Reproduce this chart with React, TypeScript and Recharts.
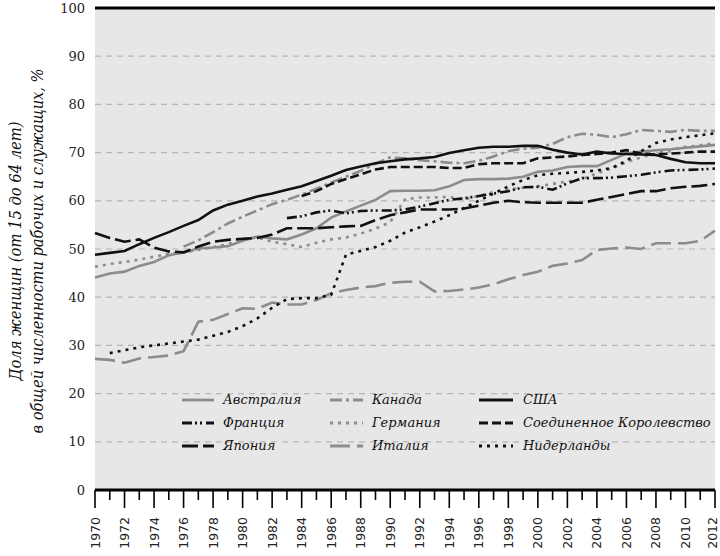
import React from 'react';
import { LineChart, Line, XAxis, YAxis, CartesianGrid, ReferenceLine, Legend } from 'recharts';

const years = [
  1970, 1971, 1972, 1973, 1974, 1975, 1976, 1977, 1978, 1979,
  1980, 1981, 1982, 1983, 1984, 1985, 1986, 1987, 1988, 1989,
  1990, 1991, 1992, 1993, 1994, 1995, 1996, 1997, 1998, 1999,
  2000, 2001, 2002, 2003, 2004, 2005, 2006, 2007, 2008, 2009,
  2010, 2011, 2012,
];

const yTicks = [0, 10, 20, 30, 40, 50, 60, 70, 80, 90, 100];

const australia = [
  44.1, 44.9, 45.3, 46.5, 47.3, 48.7, 49.3, 50.1, 50.3, 50.6,
  51.7, 52.6, 52.2, 52.0, 53.0, 54.3, 56.5, 57.8, 59.0, 60.2,
  62.0, 62.1, 62.1, 62.2, 63.0, 64.3, 64.5, 64.5, 64.6, 65.0,
  66.0, 66.3, 67.0, 67.2, 67.2, 68.5, 69.8, 70.2, 70.5, 70.7,
  71.0, 71.3, 71.6,
];
const canada = [
  null, null, null, null, null, null, 50.5, 51.8, 53.5, 55.3,
  56.7, 58.0, 59.3, 60.2, 61.3, 62.5, 63.8, 65.0, 66.2, 67.7,
  69.0, 68.8, 68.4, 68.2, 67.9, 67.8, 68.3, 69.2, 70.3, 70.8,
  71.0, 71.8, 73.2, 73.9, 73.7, 73.2, 73.8, 74.7, 74.5, 74.3,
  74.7, 74.5, 74.5,
];
const usa = [
  48.8, 49.2, 49.6, 51.0, 52.3, 53.5, 54.8, 56.0, 58.0, 59.2,
  60.0, 60.9, 61.5, 62.3, 63.0, 64.1, 65.2, 66.4, 67.1, 67.8,
  68.2, 68.6, 68.8, 69.1, 69.9, 70.5, 71.0, 71.2, 71.2, 71.4,
  71.4, 70.6, 70.0, 69.6, 70.2, 69.8, 69.7, 69.6, 69.5, 68.7,
  68.0, 67.8, 67.8,
];
const france = [
  null, null, null, null, null, null, null, null, null, null,
  null, null, null, 56.4, 56.8, 57.6, 58.0, 57.4, 57.9, 58.0,
  58.0, 58.2, 58.8, 59.5, 60.2, 60.5, 61.0, 61.5, 62.0, 62.8,
  62.9, 62.3, 63.6, 64.7, 64.7, 64.8, 65.1, 65.4, 65.9, 66.3,
  66.4, 66.5, 66.7,
];
const germany = [
  46.3, 46.9, 47.3, 47.8, 48.4, 49.0, 49.3, 49.8, 50.4, 51.0,
  52.0, 52.4, 51.5, 51.0, 50.4, 51.3, 52.0, 52.4, 53.2, 54.2,
  55.6, 60.3, 60.7, 60.7, 60.8, 60.3, 61.0, 61.8, 62.4, 62.7,
  63.0, 63.5, 64.0, 64.5, 65.7, 66.7, 68.0, 69.0, 69.8, 70.5,
  71.2, 71.5, 72.0,
];
const uk = [
  null, null, null, null, null, null, null, null, null, null,
  null, null, null, null, 61.0, 62.0, 63.5, 64.5, 65.5, 66.5,
  67.0, 67.0, 67.0, 67.0, 66.8, 66.8, 67.6, 67.8, 67.8, 67.8,
  68.8, 69.0, 69.2, 69.5, 69.7, 70.0, 70.5, 69.8, 69.6, 69.8,
  70.0, 70.2, 70.2,
];
const japan = [
  53.3, 52.3, 51.5, 52.0, 50.3, 49.5, 49.3, 50.5, 51.5, 51.9,
  52.1, 52.3, 53.0, 54.3, 54.3, 54.3, 54.5, 54.7, 54.8, 56.0,
  57.0, 57.6, 58.2, 58.2, 58.2, 58.4, 59.0, 59.6, 60.0, 59.7,
  59.6, 59.6, 59.6, 59.6, 60.2, 60.8, 61.4, 62.0, 62.0, 62.6,
  62.9, 63.1, 63.5,
];
const italy = [
  27.2, 27.0, 26.4, 27.3, 27.6, 27.9, 28.8, 34.9, 35.3, 36.5,
  37.7, 37.6, 38.9, 38.5, 38.5, 39.4, 40.8, 41.5, 42.0, 42.3,
  43.0, 43.2, 43.2, 41.2, 41.3, 41.6, 42.0, 42.7, 43.7, 44.6,
  45.3, 46.5, 47.0, 47.7, 49.8, 50.1, 50.3, 50.0, 51.2, 51.2,
  51.2, 51.7, 53.8,
];
const netherlands = [
  null, 28.4, 29.0, 29.6, 30.0, 30.4, 30.8, 31.2, 32.0, 32.8,
  34.0, 35.6, 37.8, 39.6, 39.8, 39.8, 40.5, 48.8, 49.6, 50.4,
  51.7, 53.4, 54.5, 55.7, 57.0, 58.5, 60.0, 61.5, 63.0, 64.3,
  65.3, 65.6, 65.8, 66.0, 66.3, 66.8, 68.3, 70.3, 72.0, 72.7,
  73.2, 73.6, 74.0,
];

const GRAY = '#8c8c8c';
const BLACK = '#111111';

type SeriesDef = { key: string; name: string; values: (number | null)[]; color: string; dash?: string };

const seriesDefs: SeriesDef[] = [
  { key: 'australia', name: 'Австралия', values: australia, color: GRAY },
  { key: 'canada', name: 'Канада', values: canada, color: GRAY, dash: '12 4 3 4' },
  { key: 'germany', name: 'Германия', values: germany, color: GRAY, dash: '3 5' },
  { key: 'italy', name: 'Италия', values: italy, color: GRAY, dash: '20 7' },
  { key: 'usa', name: 'США', values: usa, color: BLACK },
  { key: 'france', name: 'Франция', values: france, color: BLACK, dash: '10 3 2 3 2 4' },
  { key: 'uk', name: 'Соединенное Королевство', values: uk, color: BLACK, dash: '9 4' },
  { key: 'japan', name: 'Япония', values: japan, color: BLACK, dash: '16 5' },
  { key: 'netherlands', name: 'Нидерланды', values: netherlands, color: BLACK, dash: '3 5' },
];

const legendColumns: string[][] = [
  ['australia', 'france', 'japan'],
  ['canada', 'germany', 'italy'],
  ['usa', 'uk', 'netherlands'],
];

const data = years.map((year, i) => {
  const row: Record<string, number | null> = { year };
  seriesDefs.forEach((s) => {
    row[s.key] = s.values[i];
  });
  return row;
});

const SERIF = '"DejaVu Serif", serif';
const SANS = '"DejaVu Sans", sans-serif';

const XTick = (props: any) => {
  const { x, y, payload } = props;
  const year = payload.value as number;
  const even = year % 2 === 0;
  const lx = Math.min(x, 712);
  return (
    <g>
      <line x1={x} y1={y} x2={x} y2={y + (even ? 18 : 10)} stroke="#000" strokeWidth={1.6} />
      {even && (
        <text
          x={lx}
          y={y + 27}
          transform={`rotate(-90, ${lx}, ${y + 27})`}
          textAnchor="end"
          dy="0.36em"
          fontFamily={SANS}
          fontSize={12.5}
          fill="#222"
        >
          {year}
        </text>
      )}
    </g>
  );
};

const YLabel = () => (
  <g>
    <text
      x={21}
      y={251}
      transform="rotate(-90, 21, 251)"
      textAnchor="middle"
      fontFamily={SERIF}
      fontStyle="italic"
      fontSize={16}
      fill="#111"
      textLength={259}
      lengthAdjust="spacingAndGlyphs"
    >
      Доля женщин (от 15 до 64 лет)
    </text>
    <text
      x={43}
      y={251}
      transform="rotate(-90, 43, 251)"
      textAnchor="middle"
      fontFamily={SERIF}
      fontStyle="italic"
      fontSize={16}
      fill="#111"
      textLength={365}
      lengthAdjust="spacingAndGlyphs"
    >
      в общей численности рабочих и служащих, %
    </text>
  </g>
);

const colX = [
  { lx1: 182, lx2: 214, tx: 223 },
  { lx1: 330, lx2: 363, tx: 372 },
  { lx1: 479, lx2: 513, tx: 523 },
];
const rowY = [400, 423, 446];

const LegendContent = () => (
  <svg width={720} height={556} style={{ position: 'absolute', left: 0, top: 0 }}>
    {legendColumns.map((col, ci) =>
      col.map((key, ri) => {
        const s = seriesDefs.find((d) => d.key === key)!;
        const c = colX[ci];
        const y = rowY[ri];
        return (
          <g key={key}>
            <line
              x1={c.lx1}
              x2={c.lx2}
              y1={y}
              y2={y}
              stroke={s.color}
              strokeWidth={2.8}
              strokeDasharray={s.dash}
            />
            <text
              x={c.tx}
              y={y}
              dy="0.33em"
              fontFamily={SERIF}
              fontStyle="italic"
              fontSize={13}
              fill="#111"
            >
              {s.name}
            </text>
          </g>
        );
      })
    )}
  </svg>
);

export default function App() {
  return (
    <div style={{ position: 'absolute', left: 0, top: 0, width: 720, height: 556, background: '#fff' }}>
      <LineChart width={720} height={556} data={data} margin={{ top: 8, right: 5, bottom: 0, left: 0 }}>
        <CartesianGrid
          vertical={false}
          fill="#e7e7e7"
          stroke="#b5b5b5"
          strokeDasharray="6 5"
          strokeWidth={1.2}
        />
        <XAxis
          type="number"
          dataKey="year"
          domain={[1970, 2012]}
          ticks={years}
          interval={0}
          height={66}
          tickSize={0}
          tickMargin={0}
          tickLine={false}
          axisLine={{ stroke: '#000', strokeWidth: 3 }}
          tick={<XTick />}
        />
        <YAxis
          type="number"
          domain={[0, 100]}
          ticks={yTicks}
          interval={0}
          width={95}
          axisLine={false}
          tickLine={false}
          tickSize={0}
          tickMargin={10}
          tick={{ fontFamily: SERIF, fontSize: 13, fill: '#222' }}
          label={{ content: () => <YLabel /> }}
        />
        <ReferenceLine y={100} stroke="#000" strokeWidth={3} />
        {seriesDefs.map((s) => (
          <Line
            key={s.key}
            type="linear"
            dataKey={s.key}
            name={s.name}
            stroke={s.color}
            strokeWidth={2.6}
            strokeDasharray={s.dash}
            dot={false}
            activeDot={false}
            connectNulls={false}
            isAnimationActive={false}
          />
        ))}
        <Legend
          layout="horizontal"
          verticalAlign="middle"
          align="center"
          content={() => <LegendContent />}
          wrapperStyle={{ position: 'absolute', left: 0, top: 0, width: 720, height: 556, pointerEvents: 'none' }}
        />
      </LineChart>
    </div>
  );
}
